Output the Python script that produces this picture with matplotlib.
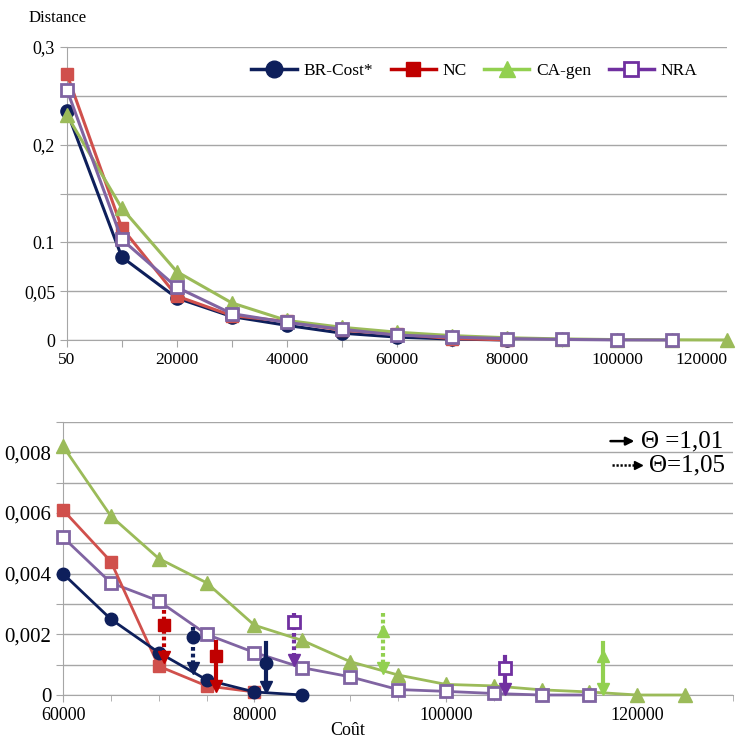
import matplotlib
matplotlib.use("Agg")
from matplotlib import pyplot as plt
from matplotlib.lines import Line2D

plt.rcParams['font.family'] = ['Liberation Serif', 'DejaVu Serif']

# ---- top chart data (Distance vs cost) ----
top_x = [50, 10000, 20000, 30000, 40000, 50000, 60000, 70000, 80000, 90000, 100000, 110000, 120000]
top_br = [0.234, 0.085, 0.043, 0.024, 0.015, 0.007, 0.003, 0.001, 0.0]
top_nc = [0.272, 0.115, 0.045, 0.025, 0.019, 0.010, 0.006, 0.0015, 0.0001]
top_ca = [0.230, 0.135, 0.070, 0.038, 0.020, 0.013, 0.008, 0.0045, 0.0023, 0.0011, 0.0004, 0.00017, 0.0]
top_nra = [0.256, 0.103, 0.054, 0.027, 0.018, 0.011, 0.005, 0.003, 0.0014, 0.0006, 0.0001, 0.0]
top_xlabels = ['50', '', '20000', '', '40000', '', '60000', '', '80000', '', '100000', '', '120000']
top_yticks = [0, 0.05, 0.1, 0.15, 0.2, 0.25, 0.3]
top_ylabels = ['0', '0,05', '0.1', '', '0,2', '', '0,3']

# ---- bottom chart data (zoom) ----
bot_x_br = [60000, 65000, 70000, 75000, 80000, 85000]
bot_br = [0.0040, 0.0025, 0.0014, 0.0005, 0.0001, 0.0]
bot_x_nc = [60000, 65000, 70000, 75000, 80000]
bot_nc = [0.0061, 0.0044, 0.00095, 0.0003, 0.0001]
bot_x_ca = [60000, 65000, 70000, 75000, 80000, 85000, 90000, 95000, 100000, 105000, 110000, 115000, 120000, 125000]
bot_ca = [0.0082, 0.0059, 0.0045, 0.0037, 0.0023, 0.0018, 0.0011, 0.00066, 0.00035, 0.0003, 0.00017, 0.0001, 0.0, 0.0]
bot_x_nra = [60000, 65000, 70000, 75000, 80000, 85000, 90000, 95000, 100000, 105000, 110000, 115000]
bot_nra = [0.0052, 0.0037, 0.0031, 0.0020, 0.0014, 0.0009, 0.0006, 0.00018, 0.00012, 0.00005, 0.0, 0.0]
bot_xticks = [60000, 80000, 100000, 120000]
bot_yticks = [0, 0.001, 0.002, 0.003, 0.004, 0.005, 0.006, 0.007, 0.008, 0.009]
bot_ylabels = ['0', '', '0,002', '', '0,004', '', '0,006', '', '0,008', '']

# theta arrows: shifted points
arrow_x = [70500, 73600, 76000, 81200, 84100, 93400, 106200, 116400]
arrow_mark = [0.0023, 0.0019, 0.0013, 0.00106, 0.0024, 0.0021, 0.0009, 0.0013]
arrow_top = [0.0028, 0.00225, 0.00175, 0.0017, 0.0027, 0.0027, 0.00125, 0.0017]
arrow_end = [0.00115, 0.0008, 0.0002, 0.00015, 0.00105, 0.0008, 0.0001, 0.0001]
arrow_series = ['NC', 'BR', 'NC', 'BR', 'NRA', 'CA', 'NRA', 'CA']
arrow_dotted = [True, True, False, False, True, True, False, False]

navy = '#0e1f5b'
red = '#d0504c'
green = '#9bbb59'
purple = '#8064a2'
grid_c = '#a6a6a6'
arrow_col = {'BR': navy, 'NC': '#c00000', 'CA': '#92d050', 'NRA': '#7030a0'}
marker_of = {'BR': 'o', 'NC': 's', 'CA': '^', 'NRA': 's'}
dots = (0, (0.9, 0.7))

fig = plt.figure(figsize=(7.45, 7.38), dpi=100)


def style_axes(ax):
    for s in ['top', 'right']:
        ax.spines[s].set_visible(False)
    for s in ['left', 'bottom']:
        ax.spines[s].set_color(grid_c)
    ax.tick_params(colors=grid_c, labelcolor='black', length=5)
    ax.yaxis.grid(True, color=grid_c, lw=1)
    ax.set_axisbelow(True)


# ---------- top ----------
ax1 = fig.add_axes([67 / 745, 1 - 340 / 738, 660 / 745, 293 / 738])
style_axes(ax1)
lw, ms = 2.2, 9.5
ax1.plot(top_x[:len(top_br)], top_br, color=navy, marker='o', lw=lw, ms=ms, clip_on=False, zorder=3)
ax1.plot(top_x[:len(top_nc)], top_nc, color=red, marker='s', lw=lw, ms=ms - 1, clip_on=False, zorder=3)
ax1.plot(top_x[:len(top_ca)], top_ca, color=green, marker='^', lw=lw, ms=ms + 1, clip_on=False, zorder=3)
ax1.plot(top_x[:len(top_nra)], top_nra, color=purple, marker='s', lw=lw, ms=ms - 1, mfc='white', mew=2,
         clip_on=False, zorder=4)
ax1.set_xlim(50, 120000)
ax1.set_ylim(0, 0.3)
ax1.set_xticks(top_x)
ax1.set_xticklabels(top_xlabels, fontsize=12.5)
ax1.get_xticklabels()[-1].set_horizontalalignment('right')
ax1.set_yticks(top_yticks)
ax1.set_yticklabels(top_ylabels, fontsize=13)
ax1.text(-0.058, 1.1, 'Distance', transform=ax1.transAxes, fontsize=12, ha='left', va='center')

handles = [
    Line2D([], [], color=navy, marker='o', lw=2.5, ms=12),
    Line2D([], [], color='#c00000', marker='s', lw=2.5, ms=10),
    Line2D([], [], color='#92d050', marker='^', lw=2.5, ms=12),
    Line2D([], [], color='#7030a0', marker='s', lw=2.5, ms=10, mfc='white', mew=2),
]
fig.legend(handles, ['BR-Cost*', 'NC', 'CA-gen', 'NRA'], loc='center', bbox_to_anchor=(0.637, 1 - 71 / 738),
           ncol=4, frameon=False, fontsize=12.5, handlelength=2.6, columnspacing=1.0, handletextpad=0.4)

# ---------- bottom ----------
ax2 = fig.add_axes([63 / 745, 1 - 695 / 738, 670 / 745, 273 / 738])
style_axes(ax2)
lw2, ms2 = 2.0, 8.5
ax2.plot(bot_x_ca, bot_ca, color=green, marker='^', lw=lw2, ms=ms2 + 1.5, clip_on=False, zorder=3)
ax2.plot(bot_x_nra, bot_nra, color=purple, marker='s', lw=lw2, ms=ms2, mfc='white', mew=2, clip_on=False, zorder=3)
ax2.plot(bot_x_nc, bot_nc, color=red, marker='s', lw=lw2, ms=ms2, clip_on=False, zorder=4)
ax2.plot(bot_x_br, bot_br, color=navy, marker='o', lw=lw2, ms=ms2 + 0.5, clip_on=False, zorder=4)

for x, m, t, e, s, d in zip(arrow_x, arrow_mark, arrow_top, arrow_end, arrow_series, arrow_dotted):
    c = arrow_col[s]
    ax2.plot([x, x], [t, e + 0.00015], color=c, lw=3, ls=dots if d else '-', zorder=5)
    ax2.plot([x], [e + 0.0001], marker='v', color=c, ms=8, zorder=5, clip_on=False)
    if s == 'NRA':
        ax2.plot([x], [m], marker='s', color=c, mfc='white', mew=2, ms=9, zorder=6)
    else:
        ax2.plot([x], [m], marker=marker_of[s], color=c, ms=9, zorder=6)

ax2.set_xlim(60000, 130000)
ax2.set_ylim(0, 0.009)
ax2.set_xticks(bot_xticks)
ax2.set_xticklabels([str(v) for v in bot_xticks], fontsize=13)
ax2.set_xticks(range(60000, 130001, 5000), minor=True)
ax2.tick_params(axis='x', which='minor', colors=grid_c, length=4)
ax2.set_yticks(bot_yticks)
ax2.set_yticklabels(bot_ylabels, fontsize=15)
ax2.text(0.425, -0.13, 'Coût', transform=ax2.transAxes, fontsize=13, ha='center', va='center')

# theta legend
ax2.annotate('', xy=(0.857, 0.93), xytext=(0.813, 0.93), xycoords='axes fraction',
             arrowprops=dict(arrowstyle='-|>', color='black', lw=1.8, mutation_scale=12))
ax2.text(0.862, 0.93, 'Θ =1,01', transform=ax2.transAxes, fontsize=18, ha='left', va='center')
ax2.plot([0.819, 0.855], [0.842, 0.842], transform=ax2.transAxes, color='black', ls=dots, lw=1.8, clip_on=False)
ax2.plot([0.858], [0.842], transform=ax2.transAxes, marker='>', color='black', ms=6, clip_on=False)
ax2.text(0.874, 0.842, 'Θ=1,05', transform=ax2.transAxes, fontsize=18, ha='left', va='center')

fig.savefig('out.png', dpi=100)
